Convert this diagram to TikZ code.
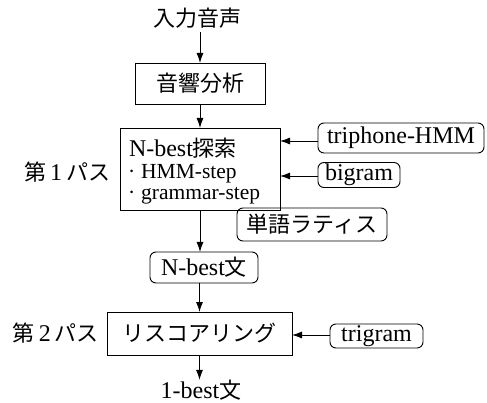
\documentclass[tikz,border=0pt]{standalone}
\usepackage{fontspec}
\setmainfont{Liberation Serif}
\newfontfamily\cjk{Noto Sans CJK JP}
\newcommand\jp[1]{{\cjk\fontsize{22}{26}\selectfont #1}}
\newcommand\bul{\hspace*{-1pt}·\hspace{6pt}}
\usetikzlibrary{arrows.meta}
\begin{document}
\begin{tikzpicture}[x=1pt,y=-1pt,
  every node/.style={inner sep=0pt,outer sep=0pt},
  sq/.style={draw,line width=0.9pt,rectangle},
  rb/.style={draw,line width=0.9pt,rounded corners=6pt,rectangle},
  lbl/.style={font=\fontsize{24}{28}\selectfont},
  arr/.style={line width=0.9pt,-{Latex[length=10pt,width=7pt]}}]
\useasboundingbox (0,0) rectangle (487,403);
\node[lbl] (inp) at (197,18) {\jp{入力音声}};
\node[sq,lbl,minimum width=130pt,minimum height=41pt] (ana) at (200,83.5) {\jp{音響分析}};
\node[sq,minimum width=160pt,minimum height=82pt] (search) at (200,169) {};
\node[anchor=west,align=left,font=\fontsize{21.5}{21.5}\selectfont] (stext) at (129,171.5)
  {{\fontsize{24}{21.5}\selectfont N-best\jp{探索}}\\ \bul HMM-step\\ \bul grammar-step};
\node[lbl] (p1) at (67,172) {\jp{第}\,1\,\jp{パス}};
\node[rb,lbl,minimum width=166pt,minimum height=30pt] (tri) at (401,138) {triphone-HMM};
\node[rb,lbl,minimum width=82pt,minimum height=25pt] (big) at (359,175) {bigram};
\node[rb,lbl,minimum width=150pt,minimum height=33pt] (lat) at (312,224.5) {\jp{単語ラティス}};
\node[rb,lbl,minimum width=108pt,minimum height=31pt] (nb) at (204,267.5) {N-best\jp{文}};
\node[sq,lbl,minimum width=185pt,minimum height=43pt] (resc) at (199.5,333.5) {\jp{リスコアリング}};
\node[lbl] (p2) at (56,333) {\jp{第}\,2\,\jp{パス}};
\node[rb,lbl,minimum width=93pt,minimum height=24pt] (tg) at (376.5,336) {trigram};
\node[lbl] (out) at (201,390) {1-best\jp{文}};
\draw[arr] (inp.south -| ana.north) ++(0,4) -- (ana.north);
\draw[arr] (ana.south) -- (search.north);
\draw[arr] (tri.west |- 0,141) -- (search.east |- 0,141);
\draw[arr] (big.west |- 0,176) -- (search.east |- 0,176);
\draw[arr] (search.south) -- (search.south |- nb.north);
\draw[arr] (nb.south -| resc.north) -- (resc.north);
\draw[arr] (tg.west |- 0,335) -- (resc.east |- 0,335);
\draw[arr] (resc.south) -- (resc.south |- out.north);
\end{tikzpicture}
\end{document}
